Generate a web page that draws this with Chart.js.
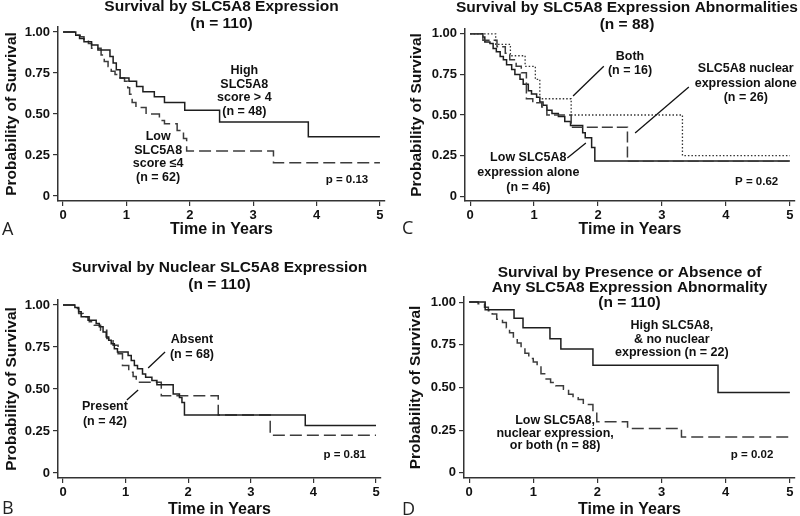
<!DOCTYPE html>
<html>
<head>
<meta charset="utf-8">
<script src="https://cdn.jsdelivr.net/npm/chart.js@4.4.1/dist/chart.umd.min.js"></script>
<style>
  body { margin: 0; background: #fff; }
  #wrap { position: relative; width: 800px; height: 516px; background: #fff; }
  #wrap canvas { position: absolute; }
</style>
</head>
<body>
<div id="wrap">
  <canvas id="cA" width="400" height="258" style="left:0;top:0"></canvas>
  <canvas id="cC" width="400" height="258" style="left:400px;top:0"></canvas>
  <canvas id="cB" width="400" height="258" style="left:0;top:258px"></canvas>
  <canvas id="cD" width="400" height="258" style="left:400px;top:258px"></canvas>
</div>
<script>
// axis ticks
const timeTicks = [0, 1, 2, 3, 4, 5];
const survTicks = [0, 0.25, 0.5, 0.75, 1];

// A: by SLC5A8 expression
const aHighT = [0, 0.2, 0.26, 0.33, 0.45, 0.55, 0.74, 0.79, 0.84, 0.9, 1.04, 1.16, 1.26, 1.44, 1.6, 1.92, 2.47, 3.87, 5];
const aHighS = [1, 0.98, 0.96, 0.94, 0.92, 0.89, 0.85, 0.81, 0.77, 0.72, 0.7, 0.667, 0.636, 0.605, 0.57, 0.523, 0.452, 0.361, 0.361];
const aLowT = [0, 0.2, 0.27, 0.33, 0.4, 0.45, 0.6, 0.65, 0.71, 0.76, 0.82, 0.9, 0.97, 1.02, 1.05, 1.09, 1.15, 1.31, 1.52, 1.6, 1.8, 1.9, 1.95, 3.32, 5];
const aLowS = [1, 0.98, 0.97, 0.95, 0.93, 0.9, 0.86, 0.82, 0.79, 0.76, 0.74, 0.72, 0.7, 0.66, 0.62, 0.57, 0.54, 0.5, 0.46, 0.44, 0.4, 0.35, 0.275, 0.203, 0.203];

// C: by expression abnormalities
const cBothT = [0, 0.4, 0.63, 0.86, 1.02, 1.09, 1.58, 3.32, 5];
const cBothS = [1, 0.935, 0.865, 0.8, 0.72, 0.6, 0.5, 0.25, 0.25];
const cLowT = [0, 0.2, 0.23, 0.31, 0.36, 0.41, 0.47, 0.52, 0.57, 0.65, 0.7, 0.78, 0.83, 0.91, 0.96, 1.04, 1.09, 1.14, 1.2, 1.28, 1.38, 1.48, 1.57, 1.76, 1.8, 1.9, 1.95, 5];
const cLowS = [1, 0.98, 0.95, 0.94, 0.91, 0.89, 0.86, 0.84, 0.81, 0.78, 0.75, 0.72, 0.69, 0.65, 0.63, 0.61, 0.58, 0.56, 0.53, 0.51, 0.49, 0.46, 0.435, 0.39, 0.36, 0.3, 0.217, 0.217];
const cNucT = [0, 0.2, 0.42, 0.55, 0.62, 0.72, 0.8, 0.88, 0.98, 1.12, 1.2, 1.58, 2.46, 5];
const cNucS = [1, 0.96, 0.92, 0.88, 0.84, 0.8, 0.76, 0.6, 0.575, 0.55, 0.5, 0.425, 0.215, 0.215];

// B: by nuclear expression
const bAbsT = [0, 0.19, 0.25, 0.29, 0.4, 0.53, 0.58, 0.64, 0.69, 0.73, 0.77, 0.82, 0.87, 1.04, 1.09, 1.14, 1.19, 1.27, 1.32, 1.42, 1.5, 1.76, 1.86, 1.9, 1.94, 3.87, 5];
const bAbsS = [1, 0.985, 0.96, 0.93, 0.91, 0.89, 0.87, 0.84, 0.81, 0.79, 0.77, 0.74, 0.72, 0.7, 0.67, 0.64, 0.62, 0.59, 0.57, 0.55, 0.525, 0.47, 0.45, 0.42, 0.345, 0.282, 0.282];
const bPresT = [0, 0.18, 0.25, 0.32, 0.42, 0.5, 0.6, 0.7, 0.8, 0.88, 0.95, 1.05, 1.12, 1.17, 1.57, 2.48, 3.31, 5];
const bPresS = [1, 0.98, 0.95, 0.93, 0.9, 0.88, 0.85, 0.8, 0.76, 0.71, 0.64, 0.6, 0.575, 0.54, 0.46, 0.345, 0.225, 0.225];

// D: any abnormality
const dHighT = [0, 0.25, 0.7, 0.84, 1.26, 1.43, 1.93, 3.88, 5];
const dHighS = [1, 0.955, 0.905, 0.85, 0.785, 0.725, 0.63, 0.47, 0.47];
const dLowT = [0, 0.14, 0.24, 0.3, 0.36, 0.43, 0.52, 0.58, 0.63, 0.69, 0.75, 0.81, 0.87, 0.93, 1, 1.06, 1.12, 1.2, 1.27, 1.35, 1.47, 1.55, 1.62, 1.7, 1.78, 1.93, 1.99, 2.47, 3.31, 5];
const dLowS = [1, 0.99, 0.97, 0.95, 0.93, 0.9, 0.88, 0.85, 0.82, 0.79, 0.76, 0.73, 0.7, 0.67, 0.65, 0.62, 0.58, 0.55, 0.53, 0.51, 0.49, 0.46, 0.44, 0.43, 0.4, 0.36, 0.3, 0.26, 0.21, 0.21];

const FONT = "'Liberation Sans', Arial, Helvetica, sans-serif";
Chart.defaults.font.family = FONT;
Chart.defaults.color = '#111';

function km(ts, ss) {
    return ts.map((t, i) => ({ x: t, y: ss[i] }));
}

function curve(ts, ss, dash, color, width) {
    return {
        data: km(ts, ss),
        stepped: true,
        borderColor: color,
        borderWidth: width || 1.5,
        borderDash: dash || [],
        pointRadius: 0,
        fill: false
    };
}

// titles, labels, leader lines and panel letter
const notesPlugin = {
    id: 'notes',
    afterDraw(chart, args, o) {
        const ctx = chart.ctx;
        const ca = chart.chartArea;
        const xs = chart.scales.x, ys = chart.scales.y;
        ctx.save();
        ctx.fillStyle = '#111';
        ctx.textAlign = 'center';
        ctx.textBaseline = 'middle';
        ctx.font = 'bold 15.5px ' + FONT;
        const cx = (ca.left + ca.right) / 2 + (o.titleShift || 0);
        o.title.forEach((s, i) => ctx.fillText(s, cx, o.titleY + i * o.titleGap));
        o.labels.forEach(l => {
            ctx.font = 'bold ' + (l.size || 12.5) + 'px ' + FONT;
            const px = xs.getPixelForValue(l.x), py = ys.getPixelForValue(l.y);
            l.lines.forEach((s, i) => ctx.fillText(s, px, py + i * (l.gap || 14)));
        });
        ctx.strokeStyle = '#111';
        ctx.lineWidth = 1.3;
        (o.leaders || []).forEach(p => {
            ctx.beginPath();
            ctx.moveTo(xs.getPixelForValue(p[0]), ys.getPixelForValue(p[1]));
            ctx.lineTo(xs.getPixelForValue(p[2]), ys.getPixelForValue(p[3]));
            ctx.stroke();
        });
        ctx.font = '18px "Open Sans", ' + FONT;
        ctx.textAlign = 'left';
        ctx.fillStyle = '#222';
        ctx.fillText(o.letter, 2, o.letterY);
        ctx.restore();
    }
};

function makePanel(id, box, datasets, notes) {
    new Chart(document.getElementById(id), {
        type: 'line',
        data: { datasets: datasets },
        options: {
            responsive: false,
            animation: false,
            devicePixelRatio: 1,
            layout: { padding: { left: 0, top: box.top, right: 400 - box.right, bottom: 0 } },
            plugins: {
                legend: { display: false },
                tooltip: { enabled: false },
                notes: notes
            },
            scales: {
                x: {
                    type: 'linear',
                    min: -0.08,
                    max: 5.08,
                    afterBuildTicks: s => { s.ticks = timeTicks.map(v => ({ value: v })); },
                    afterFit: s => { s.height = 258 - box.bottom; },
                    ticks: { font: { size: 13, weight: 'bold' }, color: '#111', padding: 2, maxRotation: 0 },
                    grid: { drawOnChartArea: false, color: '#333', lineWidth: 1.2, tickLength: 5 },
                    border: { color: '#333', width: 1.5 },
                    title: {
                        display: true, text: 'Time in Years', color: '#111',
                        font: { size: 16, weight: 'bold', lineHeight: 1 },
                        padding: { top: 0, bottom: box.xTitlePad }
                    }
                },
                y: {
                    min: -0.03,
                    max: 1.03,
                    afterBuildTicks: s => { s.ticks = survTicks.map(v => ({ value: v })); },
                    afterFit: s => { s.width = box.left; },
                    ticks: {
                        font: { size: 13, weight: 'bold' }, color: '#111', padding: 3,
                        callback: v => v === 0 ? '0' : v.toFixed(2)
                    },
                    grid: { drawOnChartArea: false, color: '#333', lineWidth: 1.2, tickLength: 5 },
                    border: { color: '#333', width: 1.5 },
                    title: {
                        display: true, text: 'Probability of Survival', color: '#111',
                        font: { size: 15.5, weight: 'bold', lineHeight: 1.2 },
                        padding: { top: box.yTitlePad, bottom: 0 }
                    }
                }
            }
        },
        plugins: [notesPlugin]
    });
}

const DARK = '#1e1e1e';
const GREY = '#3c3c3c';

makePanel('cA', { left: 58, right: 385, top: 27, bottom: 201, xTitlePad: 20, yTitlePad: 2 }, [
    curve(aHighT, aHighS, [], DARK),
    curve(aLowT, aLowS, [12, 5], GREY)
], {
    title: ['Survival by SLC5A8 Expression', '(n = 110)'], titleY: 7, titleGap: 17,
    labels: [
        { x: 2.86, y: 0.762, gap: 13.5, lines: ['High', 'SLC5A8', 'score > 4', '(n = 48)'] },
        { x: 1.5, y: 0.36, gap: 13.4, lines: ['Low', 'SLC5A8', 'score \u22644', '(n = 62)'] },
        { x: 4.48, y: 0.098, size: 11.5, lines: ['p = 0.13'] }
    ],
    leaders: [],
    letter: 'A', letterY: 230
});

makePanel('cC', { left: 65, right: 395, top: 29, bottom: 201, xTitlePad: 20, yTitlePad: 7 }, [
    curve(cBothT, cBothS, [1.5, 2], '#333', 1.3),
    curve(cNucT, cNucS, [11, 4], GREY),
    curve(cLowT, cLowS, [], DARK)
], {
    title: ['Survival by SLC5A8 Expression Abnormalities', '(n = 88)'], titleY: 8, titleGap: 17, titleShift: -3,
    labels: [
        { x: 2.5, y: 0.858, gap: 14, lines: ['Both', '(n = 16)'] },
        { x: 4.31, y: 0.784, gap: 14.5, lines: ['SLC5A8 nuclear', 'expression alone', '(n = 26)'] },
        { x: 0.91, y: 0.235, gap: 15, lines: ['Low SLC5A8', 'expression alone', '(n = 46)'] },
        { x: 4.48, y: 0.086, size: 11.5, lines: ['P = 0.62'] }
    ],
    leaders: [[1.61, 0.617, 2.09, 0.8], [2.58, 0.389, 3.42, 0.673], [1.52, 0.235, 1.81, 0.327]],
    letter: 'C', letterY: 229
});

makePanel('cB', { left: 58, right: 381, top: 42, bottom: 220, xTitlePad: -2, yTitlePad: 2 }, [
    curve(bAbsT, bAbsS, [], DARK),
    curve(bPresT, bPresS, [12, 5], GREY)
], {
    title: ['Survival by Nuclear SLC5A8 Expression', '(n = 110)'], titleY: 10, titleGap: 17,
    labels: [
        { x: 2.06, y: 0.792, gap: 15, lines: ['Absent', '(n = 68)'] },
        { x: 0.67, y: 0.393, gap: 15, lines: ['Present', '(n = 42)'] },
        { x: 4.5, y: 0.107, size: 11.5, lines: ['p = 0.81'] }
    ],
    leaders: [[1.36, 0.625, 1.63, 0.72], [1.02, 0.435, 1.2, 0.494]],
    letter: 'B', letterY: 251
});

makePanel('cD', { left: 64, right: 395, top: 39, bottom: 220, xTitlePad: -2, yTitlePad: 6 }, [
    curve(dHighT, dHighS, [], DARK),
    curve(dLowT, dLowS, [12, 5], GREY)
], {
    title: ['Survival by Presence or Absence of', 'Any SLC5A8 Expression Abnormality', '(n = 110)'], titleY: 15, titleGap: 15,
    labels: [
        { x: 3.16, y: 0.86, gap: 13.5, lines: ['High SLC5A8,', '& no nuclear', 'expression (n = 22)'] },
        { x: 1.34, y: 0.304, gap: 12.5, lines: ['Low SLC5A8,', 'nuclear expression,', 'or both (n = 88)'] },
        { x: 4.41, y: 0.105, size: 11.5, lines: ['p = 0.02'] }
    ],
    leaders: [],
    letter: 'D', letterY: 252
});
</script>
</body>
</html>
